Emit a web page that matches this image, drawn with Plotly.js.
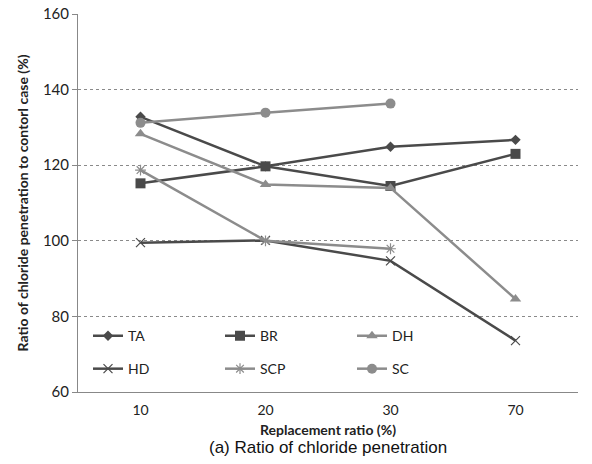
<!DOCTYPE html>
<html>
<head>
<meta charset="utf-8">
<script src="https://cdn.plot.ly/plotly-3.0.1.min.js"></script>
<style>html,body{margin:0;padding:0;background:#fff;}#chart{width:592px;height:464px;}</style>
</head>
<body>
<div id="chart"></div>
<script>
const categories = ['10', '20', '30', '70'];
const TA  = [132.8, 119.7, 124.9, 126.7];
const BR  = [115.2, 119.7, 114.5, 123.0];
const DH  = [128.3, 114.9, 114.0, 84.6];
const HD  = [99.5, 100.1, 94.7, 73.6];
const SCP = [118.7, 100.0, 97.9];
const SC  = [131.2, 133.9, 136.3];
const yTicks = [60, 80, 100, 120, 140, 160];

const dark = '#4a4a4a', light = '#8c8c8c';
function tr(name, y, color, symbol, size, legend) {
  return {x: categories.slice(0, y.length), y: y, name: name, type: 'scatter', mode: 'lines+markers',
    line: {color: color, width: 2.5}, marker: {symbol: symbol, size: size, color: color,
    line: {color: color, width: (symbol.indexOf('x') === 0 || symbol.indexOf('asterisk') === 0) ? 1.2 : 0}},
    legend: legend};
}
const data = [
  tr('TA', TA, dark, 'diamond', 8, 'legend'),
  tr('BR', BR, dark, 'square', 10, 'legend'),
  tr('DH', DH, light, 'triangle-up', 10, 'legend'),
  tr('HD', HD, dark, 'x-thin-open', 9, 'legend2'),
  tr('SCP', SCP, light, 'asterisk-open', 9, 'legend2'),
  tr('SC', SC, light, 'circle', 10, 'legend2')
];
const legFont = {family: 'Lato, "Noto Sans", sans-serif', size: 14, color: '#222'};
const layout = {
  width: 592, height: 464,
  margin: {l: 78, r: 14, t: 14, b: 72},
  paper_bgcolor: '#fff', plot_bgcolor: '#fff',
  showlegend: true,
  xaxis: {type: 'category', categoryorder: 'array', categoryarray: categories, range: [-0.5, 3.5],
    showline: true, linecolor: '#888', linewidth: 1, ticks: '', showgrid: false, zeroline: false,
    ticklabelstandoff: 5,
    tickfont: {family: 'Lato, "Noto Sans", sans-serif', size: 14, color: '#222'},
    title: {text: 'Replacement ratio (%)', font: {family: 'Lato, "Noto Sans", sans-serif', size: 14, color: '#222', weight: 'bold'}, standoff: 8}},
  yaxis: {range: [60, 160], tickvals: yTicks, ticktext: yTicks.map(String),
    showline: true, linecolor: '#888', linewidth: 1, ticks: 'outside', ticklen: 5, tickcolor: '#888',
    showgrid: true, gridcolor: '#8a8a8a', griddash: 'dot', gridwidth: 1, zeroline: false,
    tickfont: {family: 'Lato, "Noto Sans", sans-serif', size: 15, color: '#222'},
    title: {text: 'Ratio of chloride penetration to contorl case (%)', font: {family: 'Lato, "Noto Sans", sans-serif', size: 14, color: '#222', weight: 'bold'}, standoff: 10}},
  legend: {orientation: 'h', x: 0.02, y: 0.19, xanchor: 'left', yanchor: 'top', entrywidth: 87, entrywidthmode: 'pixels',
    bgcolor: 'rgba(0,0,0,0)', font: legFont, itemwidth: 30, tracegroupgap: 0},
  legend2: {orientation: 'h', x: 0.02, y: 0.103, xanchor: 'left', yanchor: 'top', entrywidth: 87, entrywidthmode: 'pixels',
    bgcolor: 'rgba(0,0,0,0)', font: legFont, itemwidth: 30, tracegroupgap: 0},
  annotations: [{text: '(a) Ratio of chloride penetration', xref: 'paper', yref: 'paper', x: 0.5, y: -0.148, yanchor: 'middle',
    xanchor: 'center', showarrow: false, font: {family: '"Liberation Sans", Arial, sans-serif', size: 17, color: '#111'}}]
};
Plotly.newPlot('chart', data, layout, {displayModeBar: false, staticPlot: true});
</script>
</body>
</html>
